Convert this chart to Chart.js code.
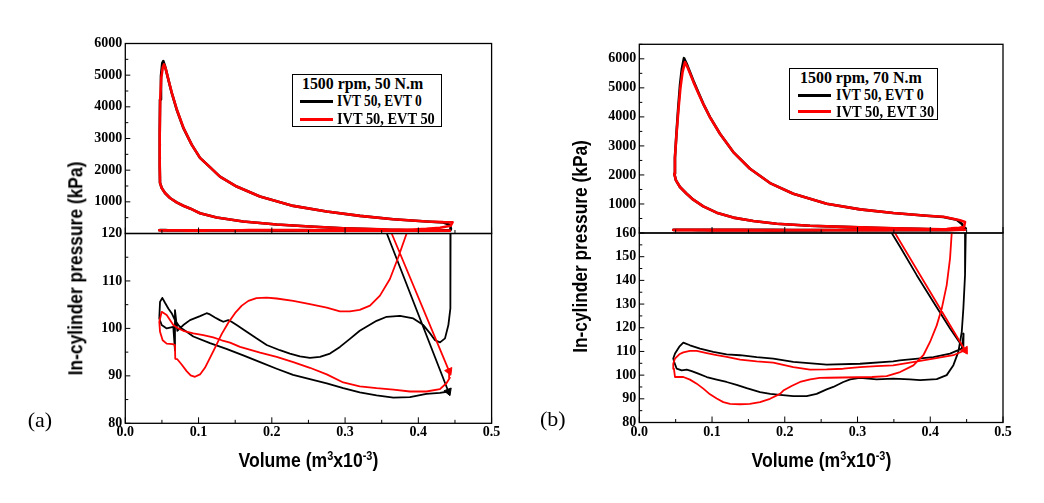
<!DOCTYPE html>
<html><head><meta charset="utf-8">
<script src="https://cdn.jsdelivr.net/npm/chart.js@4.4.1/dist/chart.umd.min.js"></script>
<style>
html,body{margin:0;padding:0;background:#fff;width:1044px;height:503px;overflow:hidden;position:relative;}
canvas{position:absolute;left:0;top:0;}
.t{position:absolute;white-space:nowrap;color:#000;line-height:1;}
.t sup{font-size:0.62em;line-height:0;vertical-align:0.6em;}
</style></head><body>
<canvas id="aTop" width="1044" height="503"></canvas>
<canvas id="aBot" width="1044" height="503"></canvas>
<canvas id="bTop" width="1044" height="503"></canvas>
<canvas id="bBot" width="1044" height="503"></canvas>
<script>
// ---------------- DATA ----------------
const xMajorTicks = [0.0, 0.1, 0.2, 0.3, 0.4, 0.5];
const xMinorTicks = [0.05, 0.15, 0.25, 0.35, 0.45];
const aUpperTicks = [1000, 2000, 3000, 4000, 5000, 6000];
const aUpperMinor = [500, 1500, 2500, 3500, 4500, 5500];
const aLowerTicks = [80, 90, 100, 110, 120];
const aLowerMinor = [85, 95, 105, 115];
const bUpperTicks = [1000, 2000, 3000, 4000, 5000, 6000];
const bUpperMinor = [500, 1500, 2500, 3500, 4500, 5500, 6500];
const bLowerTicks = [80, 90, 100, 110, 120, 130, 140, 150, 160];
const bLowerMinor = [85, 95, 105, 115, 125, 135, 145, 155];

const aCondition = '1500 rpm, 50 N.m';
const aSeriesNames = ['IVT 50, EVT 0', 'IVT 50, EVT 50'];
const bCondition = '1500 rpm, 70 N.m';
const bSeriesNames = ['IVT 50, EVT 0', 'IVT 50, EVT 30'];

// (a) IVT 50, EVT 0  — volume (m3 x10^-3), pressure (kPa)
const aBlackV = [0.441,0.357,0.343,0.2975,0.252,0.2066,0.161,0.1247,0.102,0.0883,0.0792,0.0701,0.061,0.0542,0.0497,0.0474,0.047,0.047,0.0474,0.0487,0.0505,0.0519,
 0.0542,0.0587,0.0633,0.0701,0.0792,0.0906,0.102,0.113,0.1292,0.152,0.1838,0.2293,0.2748,0.3203,0.3658,0.4113,0.434,0.4431,0.4445,0.444,
 0.4437,0.4435,0.441,0.4364,0.4296,0.4228,0.416,0.4068,0.3931,0.375,0.3568,0.343,0.32,0.3066,0.293,0.2794,0.2657,0.252,0.2384,0.2247,0.211,0.193,0.179,0.1657,0.152,0.145,0.1406,0.1338,0.129,0.1224,0.1156,0.111,0.102,0.0883,0.0792,0.071,0.0678,0.0678,0.0655,0.0565,0.0497,0.0464,0.0474,0.0505,
 0.0542,0.0587,0.0633,0.0678,0.0724,0.077,0.0838,0.0928,0.1156,0.138,0.161,0.184,0.2066,0.229,0.252,0.275,0.2975,0.32,0.343,0.366,0.3885,0.411,0.4295,0.441];
const aBlackP = [86.7,120,130,168,221,284,378,504,640,792,877,981,1121,1279,1437,1596,2121,3179,4233,4971,5380,5446,
 5287,4866,4445,3916,3337,2808,2387,2150,1797,1482,1167,872,694,557,452,378,347,273,150,120,
 111.2,104.2,100.7,97.9,97.05,97.5,98.95,100.7,102.1,102.65,102.45,101.6,99.5,97.8,96.1,94.7,94.0,93.8,94.1,94.7,95.4,96.5,97.9,99.3,100.7,101.4,101.75,101.4,101.75,102.3,102.95,103.2,102.6,101.75,100.7,99.5,103.85,95.4,100.3,100,100.7,102.1,105.6,106.44,
 105.4,104.2,103.2,101.75,100.7,100,99.3,98.3,96.9,95.7,94.3,92.9,91.5,90.2,89.3,88.4,87.4,86.5,85.9,85.4,85.5,86.2,86.4,86.7];

// (a) IVT 50, EVT 50
const aRedV = [0.442,0.3636,0.35,0.2975,0.252,0.2066,0.161,0.1247,0.102,0.0883,0.0792,0.0701,0.061,0.0542,0.0497,0.0474,0.047,0.047,0.0476,0.049,0.0512,0.0528,
 0.0552,0.0595,0.064,0.0705,0.0795,0.0906,0.102,0.113,0.1292,0.152,0.1838,0.2293,0.2748,0.3203,0.3658,0.4113,0.434,0.4468,0.444,0.4295,0.411,0.393,
 0.384,0.3726,0.3612,0.3476,0.334,0.32,0.3066,0.293,0.275,0.252,0.2293,0.2066,0.193,0.179,0.168,0.159,0.1497,0.1406,0.1315,0.1224,0.1156,0.1087,0.102,0.0951,0.0892,0.0837,0.0769,0.071,0.0682,0.0678,0.0647,0.0565,0.051,0.0474,0.0464,0.0497,
 0.0565,0.061,0.0655,0.0724,0.0792,0.0928,0.1065,0.12,0.1316,0.143,0.1566,0.184,0.2066,0.2293,0.252,0.275,0.2975,0.32,0.343,0.366,0.3885,0.411,0.4295,0.4386,0.443,0.442];
const aRedP = [91,120,129,168,221,284,378,504,640,792,877,981,1121,1279,1437,1596,2121,3179,4200,4900,5250,5341,
 5200,4800,4400,3900,3330,2808,2387,2150,1797,1482,1167,872,694,557,452,378,360,357,242,179,147,126,
 120,115,110.4,106.9,104.8,103.9,103.6,103.6,104.4,105.1,105.8,106.3,106.5,106.4,105.8,104.8,103.2,101.2,98.8,95.9,93.8,91.7,90.3,89.8,90.1,91,92.4,93.5,93.6,96.5,96.7,96.8,97.5,99.3,101.4,103.5,
 102.8,101.75,100.7,100,99.5,98.95,98.6,98.1,97.5,97,96.1,94.9,94,92.9,91.7,90.3,88.6,87.8,87.4,87.1,86.7,86.7,87.2,88.5,89.6,91];

// (b) IVT 50, EVT 0
const bBlackV = [0.4455,0.4272,0.4043,0.3814,0.3585,0.347,0.33,0.2805,0.2347,0.1888,0.1567,0.1292,0.1063,0.088,0.0742,0.0651,0.0559,0.0504,0.0481,0.049,0.051,0.0535,0.056,0.0585,0.0614,
 0.0651,0.0697,0.0742,0.0811,0.088,0.0972,0.1109,0.1292,0.1522,0.1797,0.2117,0.2576,0.3034,0.3492,0.395,0.418,0.4363,0.4432,0.4468,0.4488,
 0.4478,0.4455,0.4433,0.4386,0.4318,0.4226,0.4089,0.386,0.372,0.349,0.3263,0.3034,0.29,0.2805,0.2667,0.2576,0.2438,0.23,0.2117,0.1934,0.18,0.166,0.1476,0.1338,0.12,0.1064,0.0927,0.0811,0.072,0.0652,0.0583,0.0514,0.048,0.0467,0.0491,0.055,0.0605,
 0.0697,0.0835,0.1017,0.12,0.1385,0.1614,0.1842,0.2117,0.2576,0.3034,0.349,0.358,0.4043,0.4272,0.4433,0.4458,0.4455];
const bBlackP = [111.5,119.7,130.9,142.2,154.2,160,172,210,250,320,415,530,700,918,1147,1353,1583,1812,2042,2600,3400,4300,5100,5650,6022,
 5827,5540,5253,4852,4450,3992,3418,2787,2214,1720,1353,1009,814,688,596,551,459,321,184,160,
 142.2,128.1,118.2,109.8,104.2,100,98.3,97.9,98.2,98.5,98.2,98.8,98.2,97.1,95,94,92.1,91.1,91.1,91.7,92.1,92.8,94.5,95.9,97.1,98.1,99.2,100.6,101.7,102.3,102,102.7,105.5,107,109.1,112,113.7,
 112.6,111.2,109.8,108.8,108.4,107.6,107,105.6,104.4,104.8,105.8,106.2,107.6,109.1,111.2,117.5,111.5];

// (b) IVT 50, EVT 30
const bRedV = [0.4478,0.3515,0.33,0.2805,0.2347,0.1888,0.1567,0.1292,0.1063,0.088,0.0742,0.0651,0.0559,0.0504,0.0481,0.049,0.051,0.0538,0.0565,0.0595,0.0628,
 0.0665,0.0705,0.0748,0.0815,0.0884,0.0975,0.1109,0.1292,0.1522,0.1797,0.2117,0.2576,0.3034,0.3492,0.395,0.418,0.4409,0.4478,0.4464,0.44,
 0.4295,0.4272,0.4226,0.4158,0.4089,0.3997,0.3905,0.3768,0.3585,0.34,0.32,0.30,0.28,0.26,0.248,0.235,0.221,0.21,0.198,0.1935,0.1797,0.166,0.152,0.1385,0.1247,0.1155,0.1064,0.0972,0.088,0.0789,0.0697,0.0605,0.0491,0.0476,0.0467,0.049,0.055,0.0605,
 0.0697,0.0789,0.0927,0.1064,0.1202,0.1385,0.1614,0.1842,0.2117,0.2347,0.2576,0.2805,0.3034,0.3263,0.349,0.372,0.4043,0.4318,0.4478];
const bRedP = [110.5,160,175,210,250,320,415,530,700,918,1147,1353,1583,1812,2042,2600,3350,4250,5000,5550,5884,
 5700,5450,5180,4800,4420,3970,3418,2787,2214,1720,1353,1009,814,688,596,560,436,378,206,180,
 160,149.3,138,128.1,121,114,108.4,104.1,101.3,99.6,99.2,99.1,99.0,98.9,98.8,98.2,97.1,95.5,93.5,92.1,90,88.6,87.9,87.7,87.9,88.6,90.1,91.9,94.3,96.4,98.1,99.2,99.2,102.7,104.8,107,108.8,109.6,
 110.2,110.2,109.3,108.4,107.7,106.5,105.8,105.3,103.4,102.3,102.4,102.7,103.4,103.8,104.1,105.3,107.0,108.4,110.5];

// ---------------- BUILD ----------------
const pts = (V, P) => V.map((v, i) => ({x: v, y: P[i]}));
const BLACK = '#000000', RED = '#ff0000';
const GEOM = {
  a: {left: 125.3, right: 491.6, top: 43.5, mid: 233.5, bottom: 423.3},
  b: {left: 639.3, right: 1003, top: 44.3, mid: 233, bottom: 422.5}
};
const tickFont = {family: '"Liberation Serif", "Times New Roman", serif', weight: 'bold', size: 14};

const innerTicks = {
  id: 'innerTicks',
  afterDraw(chart, args, o) {
    const {ctx, chartArea: a} = chart;
    const xs = chart.scales.x, ys = chart.scales.y;
    ctx.save();
    ctx.strokeStyle = '#000';
    ctx.lineWidth = 1;
    ctx.beginPath();
    const xt = (arr, len) => arr.forEach(v => { const p = xs.getPixelForValue(v); ctx.moveTo(p, a.bottom); ctx.lineTo(p, a.bottom - len); });
    const yt = (arr, len) => arr.forEach(v => { const p = ys.getPixelForValue(v); ctx.moveTo(a.left, p); ctx.lineTo(a.left + len, p); });
    xt(o.xMajor, 6); xt(o.xMinor, 3.5);
    yt(o.yMajor, 5); yt(o.yMinor, 3);
    ctx.stroke();
    ctx.lineWidth = 1.3;
    ctx.strokeRect(a.left, a.top, a.right - a.left, a.bottom - a.top);
    ctx.restore();
  }
};

// arrowhead at the start of each compression stroke (first point of each series), pointing along the stroke
function arrowSet(V, P, color, g, yMin, yMax) {
  const dx = (V[0] - V[1]) * (g.right - g.left) / 0.5;
  const dy = (P[1] - P[0]) * (g.bottom - g.mid) / (yMax - yMin);
  const rot = 90 + Math.atan2(dy, dx) * 180 / Math.PI;
  return {data: [{x: V[0], y: P[0]}], showLine: false, pointStyle: 'triangle', pointRadius: 4.5,
          rotation: rot, backgroundColor: color, borderColor: color, borderWidth: 1, clip: 0};
}

function makeChart(id, g, top, bottom, yMin, yMax, yTicks, yMinor, showX, series, lw, extra) {
  const W = 60, H = 30;
  const ds = series.map(s => ({
      data: s.data, showLine: true, borderColor: s.color, backgroundColor: s.color,
      borderWidth: lw, pointRadius: 0, pointHoverRadius: 0, tension: 0, fill: false, clip: 0,
      borderJoinStyle: 'round', borderCapStyle: 'round'
  }));
  return new Chart(document.getElementById(id), {
    type: 'scatter',
    data: {datasets: (extra || []).concat(ds)},
    options: {
      responsive: false, animation: false, devicePixelRatio: 1, events: [],
      layout: {padding: {left: g.left - W, right: 1044 - g.right, top: top,
                         bottom: 503 - bottom - (showX ? H : 0)}},
      plugins: {
        legend: {display: false}, tooltip: {enabled: false},
        innerTicks: {xMajor: xMajorTicks, xMinor: xMinorTicks, yMajor: yTicks, yMinor: yMinor}
      },
      scales: {
        x: {type: 'linear', min: 0, max: 0.5,
            grid: {display: false, drawTicks: false}, border: {display: false},
            ticks: {display: showX, padding: 1, color: '#000', font: tickFont, maxRotation: 0, autoSkip: false,
                    callback: v => Number(v).toFixed(1)},
            afterBuildTicks: s => { s.ticks = xMajorTicks.map(v => ({value: v})); },
            afterFit: s => { s.height = showX ? H : 0; }},
        y: {type: 'linear', min: yMin, max: yMax,
            grid: {display: false, drawTicks: false}, border: {display: false},
            ticks: {padding: 3, color: '#000', font: tickFont, autoSkip: false, callback: v => String(v)},
            afterBuildTicks: s => { s.ticks = yTicks.map(v => ({value: v})); },
            afterFit: s => { s.width = W; }}
      }
    },
    plugins: [innerTicks]
  });
}

const aSeries = [{data: pts(aRedV, aRedP), color: RED}, {data: pts(aBlackV, aBlackP), color: BLACK}];
const bSeries = [{data: pts(bRedV, bRedP), color: RED}, {data: pts(bBlackV, bBlackP), color: BLACK}];

makeChart('aTop', GEOM.a, GEOM.a.top, GEOM.a.mid, 0, 6000, aUpperTicks, aUpperMinor, false, aSeries, 2.6);
makeChart('aBot', GEOM.a, GEOM.a.mid, GEOM.a.bottom, 80, 120, aLowerTicks, aLowerMinor, true, aSeries, 1.8,
  [arrowSet(aRedV, aRedP, RED, GEOM.a, 80, 120), arrowSet(aBlackV, aBlackP, BLACK, GEOM.a, 80, 120)]);
makeChart('bTop', GEOM.b, GEOM.b.top, GEOM.b.mid, 0, 6500, bUpperTicks, bUpperMinor, false, bSeries, 2.6);
makeChart('bBot', GEOM.b, GEOM.b.mid, GEOM.b.bottom, 80, 160, bLowerTicks, bLowerMinor, true, bSeries, 1.8,
  [arrowSet(bRedV, bRedP, RED, GEOM.b, 80, 160)]);

// ---------------- TEXT ----------------
function addText(html, o) {
  const d = document.createElement('div');
  d.className = 't';
  d.innerHTML = html;
  d.style.font = o.font;
  document.body.appendChild(d);
  const w0 = d.offsetWidth, h0 = d.offsetHeight;
  const sx = o.w ? o.w / w0 : 1;
  if (o.rotate) {
    d.style.left = (o.cx - w0 / 2) + 'px';
    d.style.top = (o.cy - h0 / 2) + 'px';
    d.style.transformOrigin = '50% 50%';
    d.style.transform = 'rotate(-90deg) scaleX(' + sx + ')';
  } else if (o.left !== undefined) {
    d.style.left = o.left + 'px';
    d.style.top = (o.cy - h0 / 2) + 'px';
    d.style.transformOrigin = '0 50%';
    d.style.transform = 'scaleX(' + sx + ')';
  } else {
    d.style.left = (o.cx - w0 / 2) + 'px';
    d.style.top = (o.cy - h0 / 2) + 'px';
    d.style.transformOrigin = '50% 50%';
    d.style.transform = 'scaleX(' + sx + ')';
  }
  return d;
}
function addBox(l, t, w, h) {
  const d = document.createElement('div');
  d.style.cssText = `position:absolute;left:${l}px;top:${t}px;width:${w}px;height:${h}px;border:1.3px solid #000;box-sizing:border-box;background:#fff;`;
  document.body.appendChild(d);
}
function addLine(l, y, w, color) {
  const d = document.createElement('div');
  d.style.cssText = `position:absolute;left:${l}px;top:${y - 1.25}px;width:${w}px;height:2.5px;background:${color};`;
  document.body.appendChild(d);
}
const titleFont = 'bold 20px "Liberation Sans", Arial, sans-serif';
const legFont = 'bold 16px "Liberation Serif", "Times New Roman", serif';
const xTitle = 'Volume (m<sup>3</sup>x10<sup>-3</sup>)';
const yTitle = 'In-cylinder pressure (kPa)';

addText(xTitle, {font: titleFont, cx: 308, cy: 460, w: 140});
addText(xTitle, {font: titleFont, cx: 821.7, cy: 460, w: 140});
addText(yTitle, {font: titleFont, cx: 75.8, cy: 268, w: 214, rotate: true});
addText(yTitle, {font: titleFont, cx: 581, cy: 246.7, w: 213, rotate: true});
addText('(a)', {font: '22px "Liberation Serif", "Times New Roman", serif', cx: 39.7, cy: 419.5});
addText('(b)', {font: '22px "Liberation Serif", "Times New Roman", serif', cx: 553, cy: 419});

// legend (a)
addBox(291.7, 74.3, 150, 53);
addText(aCondition, {font: legFont, left: 301.7, cy: 84, w: 121});
addLine(300, 101.7, 33, BLACK);
addLine(300, 119.3, 33, RED);
addText(aSeriesNames[0], {font: legFont, left: 337.3, cy: 101, w: 85});
addText(aSeriesNames[1], {font: legFont, left: 337.3, cy: 118.7, w: 98});
// legend (b)
addBox(789.3, 67.7, 149, 52.5);
addText(bCondition, {font: legFont, left: 799.5, cy: 77.8, w: 121.5});
addLine(798, 95.7, 33, BLACK);
addLine(798, 111.7, 33, RED);
addText(bSeriesNames[0], {font: legFont, left: 836, cy: 95.3, w: 88});
addText(bSeriesNames[1], {font: legFont, left: 836, cy: 112.2, w: 98.5});
</script>
</body></html>
